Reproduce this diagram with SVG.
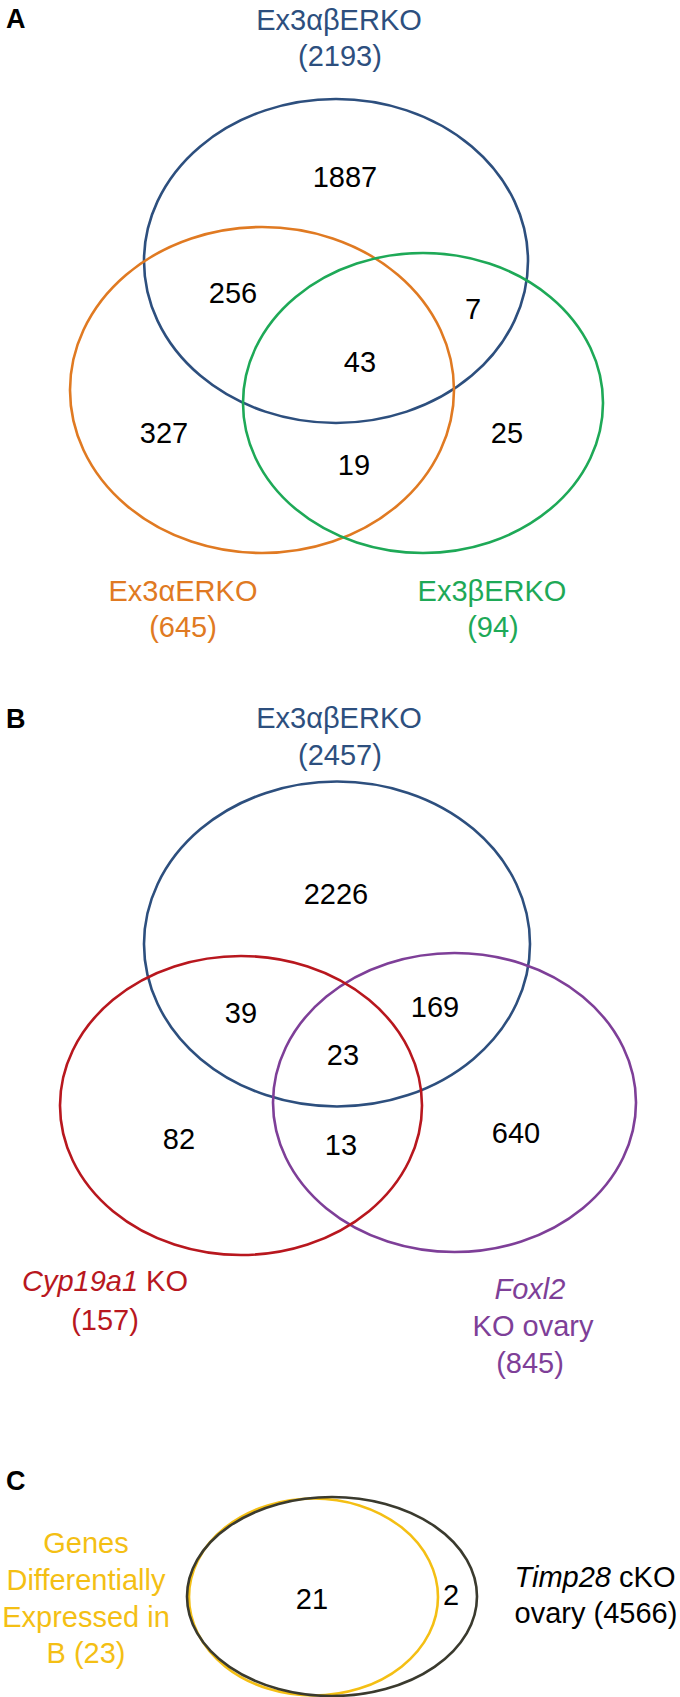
<svg xmlns="http://www.w3.org/2000/svg" width="680" height="1697" viewBox="0 0 680 1697">
<style>
text{font-family:"Liberation Sans",Arial,sans-serif;}
.num{font-size:29px;fill:#000;text-anchor:middle;}
.lab{font-size:29px;text-anchor:middle;}
.panel{font-size:27px;font-weight:bold;fill:#000;}
.c{fill:none;stroke-width:2.6;}
.it{font-style:italic;}
</style>
<rect width="680" height="1697" fill="#fff"/>
<g id="connectors"/>
<g id="panelA">
<text class="panel" x="6" y="28">A</text>
<g id="A-ab"><ellipse class="c" cx="336" cy="261" rx="192" ry="162" stroke="#2D4F7E"/>
<text class="lab" x="339" y="30" fill="#2D4F7E">Ex3αβERKO</text><text class="lab" x="340" y="66" fill="#2D4F7E">(2193)</text></g>
<g id="A-a"><ellipse class="c" cx="262" cy="390" rx="192" ry="163" stroke="#E07A22"/>
<text class="lab" x="183" y="601" fill="#E07A22">Ex3αERKO</text><text class="lab" x="183" y="637" fill="#E07A22">(645)</text></g>
<g id="A-b"><ellipse class="c" cx="423" cy="403" rx="180" ry="150" stroke="#1EA957"/>
<text class="lab" x="492" y="601" fill="#1EA957">Ex3βERKO</text><text class="lab" x="493" y="637" fill="#1EA957">(94)</text></g>
<g id="A-counts">
<text class="num" x="345" y="187">1887</text>
<text class="num" x="233" y="303">256</text>
<text class="num" x="473" y="319">7</text>
<text class="num" x="360" y="372">43</text>
<text class="num" x="164" y="443">327</text>
<text class="num" x="507" y="443">25</text>
<text class="num" x="354" y="475">19</text>
</g>
</g>
<g id="panelB">
<text class="panel" x="6" y="728">B</text>
<g id="B-ab"><ellipse class="c" cx="337" cy="944" rx="193" ry="162.5" stroke="#2D4F7E"/>
<text class="lab" x="339" y="728" fill="#2D4F7E">Ex3αβERKO</text><text class="lab" x="340" y="765" fill="#2D4F7E">(2457)</text></g>
<g id="B-foxl2"><ellipse class="c" cx="454.5" cy="1102.5" rx="181.5" ry="149.5" stroke="#7E3F98"/>
<text class="lab" x="530" y="1299" fill="#7E3F98"><tspan class="it">Foxl2</tspan></text>
<text class="lab" x="533" y="1336" fill="#7E3F98">KO ovary</text>
<text class="lab" x="530" y="1373" fill="#7E3F98">(845)</text></g>
<g id="B-cyp"><ellipse class="c" cx="241" cy="1105.5" rx="181" ry="149.5" stroke="#B8171E"/>
<text class="lab" x="105" y="1291" fill="#B8171E"><tspan class="it">Cyp19a1</tspan> KO</text>
<text class="lab" x="105" y="1330" fill="#B8171E">(157)</text></g>
<g id="B-counts">
<text class="num" x="336" y="904">2226</text>
<text class="num" x="241" y="1023">39</text>
<text class="num" x="435" y="1017">169</text>
<text class="num" x="343" y="1065">23</text>
<text class="num" x="179" y="1149">82</text>
<text class="num" x="341" y="1155">13</text>
<text class="num" x="516" y="1143">640</text>
</g>
</g>
<g id="panelC">
<text class="panel" x="6" y="1490">C</text>
<g id="C-genes"><ellipse class="c" cx="313.5" cy="1597" rx="124.5" ry="98.5" stroke="#F4BF14"/>
<text class="lab" x="86" y="1553" fill="#F4BF14">Genes</text>
<text class="lab" x="86" y="1590" fill="#F4BF14">Differentially</text>
<text class="lab" x="86" y="1627" fill="#F4BF14">Expressed in</text>
<text class="lab" x="86" y="1663" fill="#F4BF14">B (23)</text></g>
<g id="C-timp"><ellipse class="c" cx="332" cy="1596.5" rx="145" ry="99.5" stroke="#3A3A2E"/>
<text class="lab" x="595" y="1587" fill="#000"><tspan class="it">Timp28</tspan> cKO</text>
<text class="lab" x="596" y="1623" fill="#000">ovary (4566)</text></g>
<g id="C-counts">
<text class="num" x="312" y="1609">21</text>
<text class="num" x="451" y="1605">2</text>
</g>
</g>
</svg>
